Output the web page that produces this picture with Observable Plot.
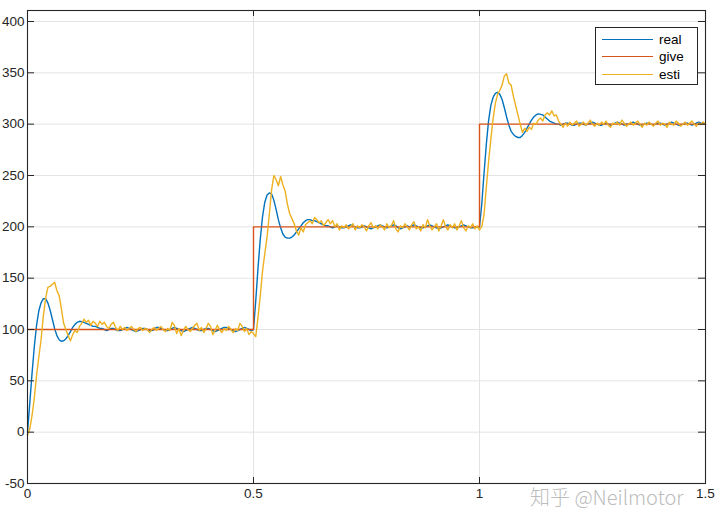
<!DOCTYPE html>
<html><head><meta charset="utf-8">
<script src="https://cdn.jsdelivr.net/npm/d3@7"></script>
<script src="https://cdn.jsdelivr.net/npm/@observablehq/plot@0.6"></script>
<style>
body{margin:0;background:#fff;}
#wrap{position:relative;width:720px;height:530px;font-family:"Liberation Sans",Arial,sans-serif;}
#legend{position:absolute;left:595px;top:27px;width:103px;height:58px;border:1px solid #262626;background:#fff;box-sizing:border-box;}
.item{position:absolute;left:6px;height:16px;display:flex;align-items:center;font-size:13.5px;color:#000;}
.sw{display:inline-block;width:51px;height:0;border-top:1.3px solid;margin-right:6px;}
#wm{position:absolute;left:530px;top:487px;font-family:"Noto Sans CJK SC";font-weight:300;font-size:20px;line-height:1;color:#bcbcbc;white-space:nowrap;}
</style></head>
<body><div id="wrap"></div>
<script>
// ---- data ----
const seriesNames = ["real", "give", "esti"];
const seriesColors = ["#0072BD", "#D95319", "#EDB120"];
const sampleStep = 0.005; // simulation sample time (s)

const realVals = [
  0, 28, 57, 83, 104, 118, 126, 130, 130, 126,
  119, 110, 101, 94, 90, 88.5, 89, 91, 94, 98,
  102, 105, 107, 108, 107.5, 107, 106, 105, 104, 103,
  103, 102, 101, 101, 100, 99, 100, 101, 101, 100,
  99, 99, 100, 101, 102, 101, 100, 99, 98, 99,
  100, 101, 101, 100, 99, 99, 100, 102, 102, 101,
  100, 99, 99, 100, 101, 102, 101, 100, 99, 98,
  99, 100, 101, 102, 101, 100, 99, 99, 100, 101,
  101, 100, 99, 98, 99, 100, 101, 102, 102, 101,
  100, 99, 98, 99, 100, 101, 102, 101, 100, 99,
  100, 128, 160, 188, 210, 224, 231, 233, 232, 226,
  217, 207, 199, 193, 190, 189, 189, 190, 192, 195,
  198, 201, 204, 206, 207, 207, 206, 206, 205, 204,
  203, 202, 201, 201, 200, 199, 200, 201, 200, 199,
  199, 200, 201, 202, 201, 200, 199, 199, 200, 201,
  200, 199, 198, 199, 200, 201, 202, 201, 200, 199,
  200, 201, 202, 201, 199, 198, 199, 200, 201, 200,
  201, 202, 201, 200, 199, 199, 200, 201, 202, 201,
  200, 199, 198, 199, 200, 201, 202, 201, 200, 199,
  199, 200, 201, 202, 201, 200, 199, 199, 200, 200,
  200, 222, 252, 280, 303, 318, 326, 330, 331, 329,
  324, 316, 307, 299, 293, 290, 288, 287, 287, 289,
  292, 296, 300, 304, 307, 309, 310, 309.5, 309, 307,
  305, 303, 302, 301, 300, 300, 299, 300, 301, 301,
  300, 299, 299, 300, 301, 301, 300, 299, 300, 301,
  302, 301, 300, 299, 299, 300, 301, 300, 299, 300,
  301, 302, 301, 300, 299, 300, 300, 301, 302, 301,
  300, 299, 299, 300, 301, 301, 300, 299, 300, 301,
  301, 300, 299, 300, 301, 302, 301, 300, 299, 299,
  300, 301, 301, 300, 299, 300, 301, 302, 301, 300,
  300
];

const estiVals = [
  -3, 3, 16, 33, 55, 73, 90, 113, 130, 141,
  142, 144, 146, 138, 133, 120, 106, 100, 94, 89,
  95, 99, 97, 103, 106, 110, 107, 109, 104, 108,
  106, 103, 108, 105, 107, 103, 101, 105, 107, 102,
  99, 103, 100, 102, 99, 101, 103, 100, 98, 101,
  102, 99, 101, 100, 97, 100, 102, 99, 101, 103,
  100, 98, 101, 99, 107, 104, 96, 101, 94, 99,
  103, 100, 98, 101, 104, 106, 99, 102, 97, 101,
  106, 103, 95, 99, 104, 100, 97, 101, 99, 103,
  100, 97, 101, 99, 106, 103, 98, 101, 95, 98,
  96, 93, 112, 133, 157, 174, 190, 212, 236, 250,
  246, 240, 249, 241, 235, 222, 213, 208, 203, 196,
  192, 199, 195, 202, 204, 206, 203, 209, 207, 204,
  206, 201, 204, 207, 203, 206, 200, 203, 197, 201,
  199, 202, 198, 200, 203, 197, 201, 199, 202, 200,
  196, 201, 204, 199, 201, 198, 202, 200, 197, 203,
  199, 201, 206, 198, 195, 201, 199, 203, 200, 197,
  202, 205, 198, 200, 196, 202, 199, 207, 201, 197,
  200, 203, 196, 201, 207, 200, 197, 202, 199, 203,
  197, 201, 206, 199, 196, 201, 199, 203, 198, 201,
  197, 200, 212, 238, 263, 285, 305, 320, 329, 333,
  338, 347, 349, 340, 338, 327, 318, 309, 300, 292,
  296, 293, 297, 295, 301, 300, 304, 306, 303, 309,
  311, 309, 313, 308, 309, 303, 300, 297, 301, 298,
  302, 299, 301, 303, 298, 300, 302, 299, 301, 304,
  300, 298, 301, 299, 302, 300, 303, 299, 297, 301,
  300, 302, 299, 304, 301, 298, 300, 302, 299, 301,
  303, 300, 297, 301, 299, 302, 300, 298, 301, 303,
  299, 301, 300, 297, 302, 300, 299, 303, 301, 298,
  300, 302, 299, 301, 303, 300, 298, 301, 300, 302,
  300
];

const giveTimes = [0, 0.5, 0.5, 1, 1, 1.5];
const giveVals = [100, 100, 200, 200, 300, 300];

const xTicks = [0, 0.5, 1, 1.5];
const xTickLabels = ["0", "0.5", "1", "1.5"];
const yTicks = [-50, 0, 50, 100, 150, 200, 250, 300, 350, 400];
const yTickLabels = ["-50", "0", "50", "100", "150", "200", "250", "300", "350", "400"];
const watermark = "知乎 @Neilmotor";

// ---- build tables ----
const realData = realVals.map((v, i) => ({t: i * sampleStep, v}));
const estiData = estiVals.map((v, i) => ({t: i * sampleStep, v}));
const giveData = giveVals.map((v, i) => ({t: giveTimes[i], v}));

const W = 720, H = 530, mL = 27, mR = 15, mT = 10, mB = 47;
const innerW = W - mL - mR, innerH = H - mT - mB;
const axisColor = "#262626";
const gridColor = "#e3e3e3";

const chart = Plot.plot({
  width: W, height: H,
  marginLeft: mL, marginRight: mR, marginTop: mT, marginBottom: mB,
  style: {fontFamily: "'Liberation Sans', Arial, sans-serif", fontSize: "13.5px", color: axisColor, background: "#fff", overflow: "visible"},
  x: {domain: [0, 1.5]},
  y: {domain: [-50, 410.7]},
  marks: [
    Plot.gridX(xTicks, {stroke: gridColor, strokeOpacity: 1}),
    Plot.gridY(yTicks, {stroke: gridColor, strokeOpacity: 1}),
    Plot.line(realData, {x: "t", y: "v", stroke: seriesColors[0], strokeWidth: 1.4}),
    Plot.line(giveData, {x: "t", y: "v", stroke: seriesColors[1], strokeWidth: 1.4}),
    Plot.line(estiData, {x: "t", y: "v", stroke: seriesColors[2], strokeWidth: 1.4}),
    Plot.frame({stroke: axisColor, strokeWidth: 1.1}),
    Plot.tickY(yTicks, {y: d => d, insetRight: innerW - 7, stroke: axisColor}),
    Plot.tickY(yTicks, {y: d => d, insetLeft: innerW - 7, stroke: axisColor}),
    Plot.tickX(xTicks, {x: d => d, insetTop: innerH - 6, stroke: axisColor}),
    Plot.tickX(xTicks, {x: d => d, insetBottom: innerH - 6, stroke: axisColor}),
    Plot.axisX(xTicks, {tickSize: 0, tickPadding: 5, label: null, tickFormat: (d, i) => xTickLabels[i], fill: axisColor}),
    Plot.axisY(yTicks, {tickSize: 0, tickPadding: 3, label: null, tickFormat: (d, i) => yTickLabels[i], fill: axisColor})
  ]
});

const wrap = document.getElementById("wrap");
wrap.appendChild(chart);

// legend
const legend = document.createElement("div");
legend.id = "legend";
const rowTops = [3, 20.5, 38];
seriesNames.forEach((name, i) => {
  const item = document.createElement("div");
  item.className = "item";
  item.style.top = rowTops[i] + "px";
  const sw = document.createElement("span");
  sw.className = "sw";
  sw.style.borderTopColor = seriesColors[i];
  item.appendChild(sw);
  item.appendChild(document.createTextNode(name));
  legend.appendChild(item);
});
wrap.appendChild(legend);

const wm = document.createElement("div");
wm.id = "wm";
wm.textContent = watermark;
wrap.appendChild(wm);
</script>
</body></html>
